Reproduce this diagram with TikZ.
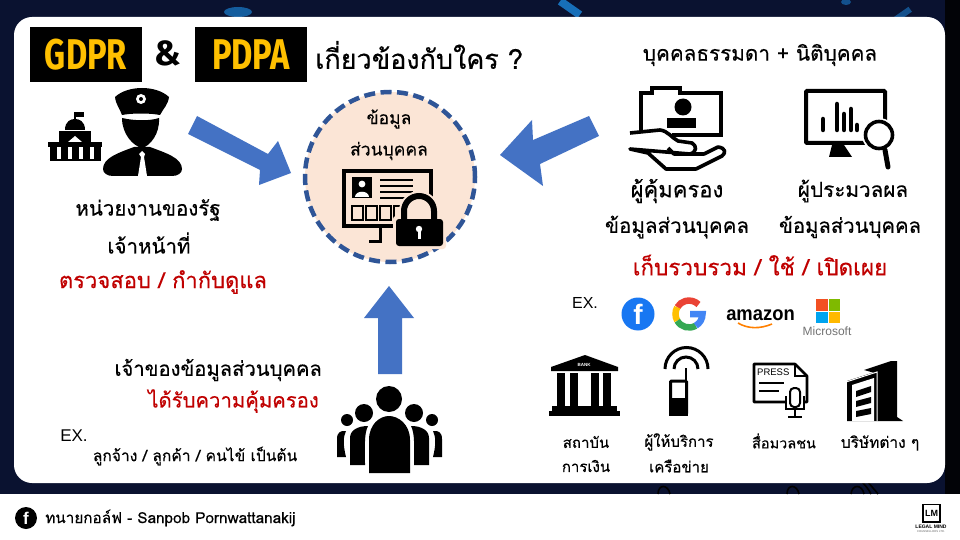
\documentclass[tikz,border=0pt]{standalone}
\usepackage{fontspec}
\setmainfont{Liberation Sans}
\newfontfamily\thaifont[Script=Thai,FakeBold=0.35]{Loma}
\newfontfamily\headfont{Fira Sans}
\definecolor{navybg}{HTML}{0A1230}
\definecolor{arrowblue}{HTML}{4472C4}
\definecolor{ringblue}{HTML}{2F5597}
\definecolor{peach}{HTML}{FBE5D6}
\definecolor{dredtxt}{HTML}{C00000}
\definecolor{badgeyellow}{HTML}{FFC000}
\definecolor{glow}{HTML}{1C8FE8}
\definecolor{loop}{HTML}{3FB0E0}
\definecolor{fbblue}{HTML}{1877F2}
\definecolor{googred}{HTML}{EA4335}
\definecolor{googgreen}{HTML}{34A853}
\definecolor{googblue}{HTML}{4285F4}
\definecolor{msred}{HTML}{F25022}
\definecolor{msgreen}{HTML}{7FBA00}
\definecolor{msblue}{HTML}{00A4EF}
\definecolor{msyellow}{HTML}{FFB900}
\tikzset{
 x=1pt,y=-1pt,
 th/.style={font=\thaifont\fontsize{#1}{#1}\selectfont,inner sep=0pt,text=black,align=center},
 thred/.style={th=#1,text=dredtxt},
 badge/.style={fill=black,text=badgeyellow,inner sep=0pt,minimum width=112pt,minimum height=55pt,font=\headfont\bfseries\fontsize{43}{43}\selectfont},
 blockarrow/.style={fill=arrowblue,draw=none},
 icon/.style={fill=black,draw=none},
 iconline/.style={draw=black,line width=#1,fill=none},
 iconline/.default=3pt,
}
\begin{document}
\begin{tikzpicture}
\useasboundingbox (0,0) rectangle (960,540);
\fill[navybg] (0,0) rectangle (960,494);
\fill[black!85!navybg] (945,0) rectangle (960,494);
\fill[white] (0,494) rectangle (960,540);
% background specks
\fill[glow,opacity=.75,rotate around={-35:(570,8)}] (558,4) rectangle (582,12);
\fill[glow,opacity=.6] (238,12) ellipse (14 and 5);
\fill[glow,opacity=.5] (846,2) ellipse (5 and 3);
\fill[glow,opacity=.5,rotate around={35:(902,15)}] (892,12) rectangle (912,18);
\draw[loop,line width=1.6pt] (658,494) .. controls (658,484) and (668,484) .. (670,494);
\draw[loop,line width=1.6pt] (787,494) .. controls (787,484) and (797,484) .. (799,494);
\draw[loop,line width=1.6pt] (851,494) .. controls (852,484) and (862,484) .. (864,494);
\draw[loop,line width=1.6pt] (862,482) .. controls (866,486) and (869,490) .. (871,494);
\draw[loop,line width=1.6pt] (868,482) .. controls (871,486) and (875,490) .. (878,494);
\fill[white,rounded corners=18pt] (14,17) rectangle (945,483);
% badges
\node[badge] (gdpr) at (86,55) {\raisebox{-5pt}{\scalebox{0.76}[1]{GDPR}}};
\node[badge] (pdpa) at (251,54.5) {\raisebox{-5pt}{\scalebox{0.76}[1]{PDPA}}};
\node[font=\headfont\bfseries\fontsize{35}{35}\selectfont,text=black,inner sep=0pt] (amp) at (168,53) {\&};
\node[th=27,anchor=west] (title) at (315,55) {เกี่ยวข้องกับใคร ?};
% police officer
\fill[icon] (115,97) .. controls (128,85) and (156,85) .. (169,97) .. controls (168,105) and (163,109) .. (160,115) .. controls (150,113) and (132,113) .. (122,115) .. controls (120,109) and (116,105) .. (115,97) -- cycle;
\fill[icon] (122,118) .. controls (135,121) and (150,121) .. (159,118) .. controls (160,134) and (150,146) .. (142,148) .. controls (133,146) and (122,134) .. (122,118) -- cycle;
\fill[icon] (103,169) .. controls (103,158) and (118,153) .. (134,147) -- (150,147) .. controls (166,153) and (182,158) .. (182,169) .. controls (182,173) and (178,176) .. (172,176) -- (113,176) .. controls (107,176) and (103,173) .. (103,169) -- cycle;
\fill[white] (142,151) -- (145,154) -- (144,157) -- (147,176) -- (138,176) -- (141,157) -- (139,154) -- cycle;
\fill[white] (141,99) circle (5);
\fill[black] (141,99) circle (2);
% government building
\fill[icon] (48,142) rectangle (102,147);
\fill[icon] (50,159) rectangle (101,161);
\foreach \bx in {50,61,72,83,94}{\fill[icon] (\bx,147) rectangle ++(7,13);}
\fill[icon] (59,131) rectangle (91,142);
\fill[icon] (65,130) .. controls (65,121) and (71,119) .. (75,119) .. controls (79,119) and (85,121) .. (85,130) -- cycle;
\fill[icon] (74,112) rectangle (76,120);
\fill[icon] (76,112) rectangle (84,117);
\fill[white] (68,142) -- (75,136) -- (82,142) -- cycle;
% block arrows
\fill[blockarrow] (197,116) -- (188,134) -- (260,170) -- (259,185) -- (291,173) -- (278,141) -- (268,154) -- cycle;
\fill[blockarrow] (589,116) -- (599,136) -- (540,164) -- (543,186) -- (500,155) -- (532,120) -- (533,140) -- cycle;
\fill[blockarrow] (378,374) -- (378,318) -- (364,318) -- (389,286) -- (414,318) -- (402,318) -- (402,374) -- cycle;
% central circle
\node[circle,fill=peach,draw=ringblue,line width=4.5pt,dash pattern=on 11pt off 5.5pt,minimum size=170pt,inner sep=0pt] (hub) at (390,177) {};
\node[th=17.5] (hubt1) at (389,119) {ข้อมูล};
\node[th=17.5] (hubt2) at (389,151) {ส่วนบุคคล};
% computer with lock
\draw[iconline=3.5pt] (344,171) rectangle (431,226);
\fill[icon] (352,177) rectangle (372,198);
\fill[white] (362,184) circle (3.4);
\fill[white] (355,197) .. controls (355,190) and (369,190) .. (369,197) -- cycle;
\foreach \ly in {180,186,192,198}{\draw[black,line width=1.5pt] (380,\ly) -- (413,\ly);}
\foreach \bx in {352,366,380,394}{\draw[black,line width=1.7pt] (\bx,206) rectangle ++(11,14);}
\draw[black,line width=3pt] (380,227) -- (380,241) -- (369,241);
\draw[peach,line width=10pt] (404,222) -- (404,211) arc[start angle=180,end angle=360,radius=15] -- (434,222);
\fill[peach,rounded corners=3pt] (393,216) rectangle (446,249);
\draw[black,line width=6pt] (404,222) -- (404,211) arc[start angle=180,end angle=360,radius=15] -- (434,222);
\fill[icon,rounded corners=3pt] (396,219) rectangle (443,246);
\fill[white] (419,229) circle (3.2);
\fill[white] (417.5,231) rectangle (420.5,239);
% left captions
\node[th=20.5] (govt1) at (148,210) {หน่วยงานของรัฐ};
\node[th=20.5] (govt2) at (149,243) {เจ้าหน้าที่};
\node[thred=22] (gov3) at (163,282) {ตรวจสอบ / กำกับดูแล};
\node[th=20.2,anchor=east] (ownert1) at (322,370) {เจ้าของข้อมูลส่วนบุคคล};
\node[thred=20.3,anchor=east] (ownert2) at (319,401) {ได้รับความคุ้มครอง};
\node[font=\fontsize{17}{17}\selectfont,inner sep=0pt] (ex1) at (74,436) {EX.};
\node[th=15.6] (ownerex) at (195,456) {ลูกจ้าง / ลูกค้า / คนไข้ เป็นต้น};
% people
\fill[icon] (389,399) circle (13);
\fill[icon] (364,413) circle (9);\fill[icon] (414,413) circle (9);
\fill[icon] (347,420) circle (6);\fill[icon] (432,420) circle (6);
\fill[icon] (337,457) -- (337,439) .. controls (337,432) and (341,431) .. (344,431) -- (346,431) .. controls (343,437) and (343,445) .. (346,457) -- cycle;
\fill[icon] (442,457) -- (442,439) .. controls (442,432) and (438,431) .. (435,431) -- (433,431) .. controls (436,437) and (436,445) .. (433,457) -- cycle;
\fill[icon] (350,465) -- (350,438) .. controls (350,430) and (358,426) .. (368,426) .. controls (364,434) and (365,445) .. (365,465) -- cycle;
\fill[icon] (429,465) -- (429,438) .. controls (429,430) and (421,426) .. (411,426) .. controls (415,434) and (414,445) .. (414,465) -- cycle;
\fill[icon] (369,473) -- (369,440) .. controls (369,424) and (380,416) .. (389,416) .. controls (398,416) and (410,424) .. (410,440) -- (410,473) -- cycle;
% right heading
\node[th=20.7] (rhead) at (760,55) {บุคคลธรรมดา + นิติบุคคล};
% controller icon
\draw[iconline=3.6pt] (641,131) -- (641,93) -- (652,93) -- (652,88) -- (680,88) -- (680,93) -- (721,93) -- (721,135) -- (672,135);
\fill[icon] (683,107) circle (8.5);
\fill[icon] (667,118) rectangle (696,128);
\draw[iconline=3.6pt,fill=white,line join=round] (630,133) -- (660,130) .. controls (668,131) and (672,138) .. (678,141) -- (692,143) .. controls (697,146) and (697,152) .. (690,154) -- (674,154) -- (668,148) (690,154) -- (704,154) -- (718,147) .. controls (726,148) and (726,153) .. (722,156) -- (696,169) -- (666,169) -- (648,153) -- (630,149) -- cycle;
% processor icon
\draw[iconline=4pt,rounded corners=1pt] (806,91) rectangle (885,143);
\fill[icon] (832,145) -- (844,145) -- (852,157) -- (829,157) -- cycle;
\foreach \bx/\bt in {823/119,837/104,844/114,851/109,857/125}{\draw[black,line width=4.5pt,line cap=round] (\bx,\bt) -- (\bx,130);}
\fill[white] (879,135) circle (17);
\draw[iconline=3.6pt,fill=white] (879,135) circle (13.5);
\draw[black,line width=5pt,line cap=round] (885,150) -- (888,167);
% right captions
\node[th=22] (ctrl1) at (677,191) {ผู้คุ้มครอง};
\node[th=20.6] (ctrl2) at (677,227) {ข้อมูลส่วนบุคคล};
\node[th=20.7] (proc1) at (853,191) {ผู้ประมวลผล};
\node[th=20.3] (proc2) at (850,227) {ข้อมูลส่วนบุคคล};
\node[thred=22.5] (acts) at (760,265) {เก็บรวบรวม / ใช้ / เปิดเผย};
\node[font=\fontsize{16}{16}\selectfont,inner sep=0pt] (ex2) at (585,303) {EX.};
% logos
\node[circle,fill=fbblue,minimum size=33pt,inner sep=0pt,text=white,font=\bfseries\fontsize{28}{28}\selectfont] (fb) at (638,314) {f};
\begin{scope}[line width=6.5pt]
\draw[googred] (698.5,304.5) arc[start angle=-45,end angle=-150,radius=13.5];
\draw[badgeyellow] (677.3,307.25) arc[start angle=-150,end angle=-210,radius=13.5];
\draw[googgreen] (677.3,320.75) arc[start angle=-210,end angle=-300,radius=13.5];
\draw[googblue] (695.75,325.7) arc[start angle=60,end angle=0,radius=13.5] -- (690,314);
\end{scope}
\node[font=\bfseries\fontsize{20}{20}\selectfont,inner sep=0pt] (amzn) at (760.5,315) {\scalebox{0.92}[1]{amazon}};
\draw[orange,line width=1.6pt] (738,323) .. controls (748,329) and (760,329) .. (772,324);
\fill[msred] (816,299) rectangle (827.5,310.5);
\fill[msgreen] (828.5,299) rectangle (840,310.5);
\fill[msblue] (816,311.5) rectangle (827.5,323);
\fill[msyellow] (828.5,311.5) rectangle (840,323);
\node[font=\fontsize{12}{12}\selectfont,inner sep=0pt,text=black!55] (ms) at (827,331) {Microsoft};
% bank
\fill[icon] (585,355) -- (618,367) -- (618,371) -- (551,371) -- (551,367) -- cycle;
\node[font=\bfseries\fontsize{4.5}{4.5}\selectfont,text=white,inner sep=0pt] (banktxt) at (584,365) {BANK};
\foreach \bx in {561,574,595,607}{\fill[icon] (\bx-4,373) rectangle (\bx+4,406);}
\fill[icon] (552,406) rectangle (617,411);
\fill[icon] (549,411) rectangle (620,416);
% telecom
\draw[black,line width=3pt] (665,369) arc[start angle=180,end angle=360,radius=21.5];
\draw[black,line width=3pt] (674,369) arc[start angle=180,end angle=360,radius=12];
\fill[icon] (685,368) rectangle (687,381);
\draw[iconline=3pt,rounded corners=1pt] (670.5,381) rectangle (686.5,414);
\fill[icon] (669,398) rectangle (688,415.5);
% press
\draw[iconline=2.6pt,line join=round] (786,402) -- (754,402) -- (754,364) -- (795,364) -- (807,376) -- (807,402) -- (804,402);
\draw[iconline=2pt] (795,364) -- (795,376) -- (807,376);
\node[font=\fontsize{9.5}{9.5}\selectfont,inner sep=0pt,anchor=west] (press) at (757,372) {PRESS};
\draw[black,line width=1.8pt] (759,383) -- (784,383) (759,391) -- (779,391);
\draw[iconline=2pt,fill=white,rounded corners=4pt] (790,388) rectangle (800,407);
\draw[iconline=1.8pt] (786,396) -- (786,409) -- (804,409) -- (804,396);
\draw[black,line width=2pt] (795,409) -- (795,417) (788,417) -- (802,417);
% building
\fill[icon] (847,421) -- (847,381) -- (878,371) -- (878,421) -- cycle;
\fill[white] (852,421) -- (852,385) -- (874,378) -- (874,421) -- cycle;
\fill[icon] (856,391) -- (871,386) -- (871,392) -- (856,397) -- cycle;
\fill[icon] (856,401) -- (871,397) -- (871,403) -- (856,407) -- cycle;
\fill[icon] (856,411) -- (871,408) -- (871,414) -- (856,417) -- cycle;
\fill[icon] (864,370) -- (891,361) -- (897,361) -- (897,417) -- (903,421) -- (878,421) -- (878,374) -- cycle;
\draw[white,line width=1pt] (846,382) -- (877,372) -- (877,421);
% icon captions
\node[th=15] (c1a) at (586,442) {สถาบัน};
\node[th=15] (c1b) at (586,466) {การเงิน};
\node[th=15] (c2a) at (679,442) {ผู้ให้บริการ};
\node[th=15] (c2b) at (679,466) {เครือข่าย};
\node[th=14.5] (c3) at (784,441) {สื่อมวลชน};
\node[th=15.5] (c4) at (880,443) {บริษัทต่าง ๆ};
% footer
\node[circle,fill=black,minimum size=22pt,inner sep=0pt,text=white,font=\bfseries\fontsize{17}{17}\selectfont] (fbf) at (26,518) {f};
\node[th=15.3,anchor=west] (foot) at (45,518) {ทนายกอล์ฟ - Sanpob Pornwattanakij};
\draw[iconline=1.6pt] (923,504.5) rectangle (940,522);
\node[font=\bfseries\fontsize{9}{9}\selectfont,inner sep=0pt] (lmmark) at (931.5,513.5) {LM};
\node[font=\bfseries\fontsize{5}{5}\selectfont,inner sep=0pt] (lmname) at (931,527) {LEGAL MIND};
\node[font=\fontsize{2.8}{2.8}\selectfont,inner sep=0pt,text=black!60] (lmsub) at (931,532) {COUNSELLORS LTD.};
\end{tikzpicture}
\end{document}
